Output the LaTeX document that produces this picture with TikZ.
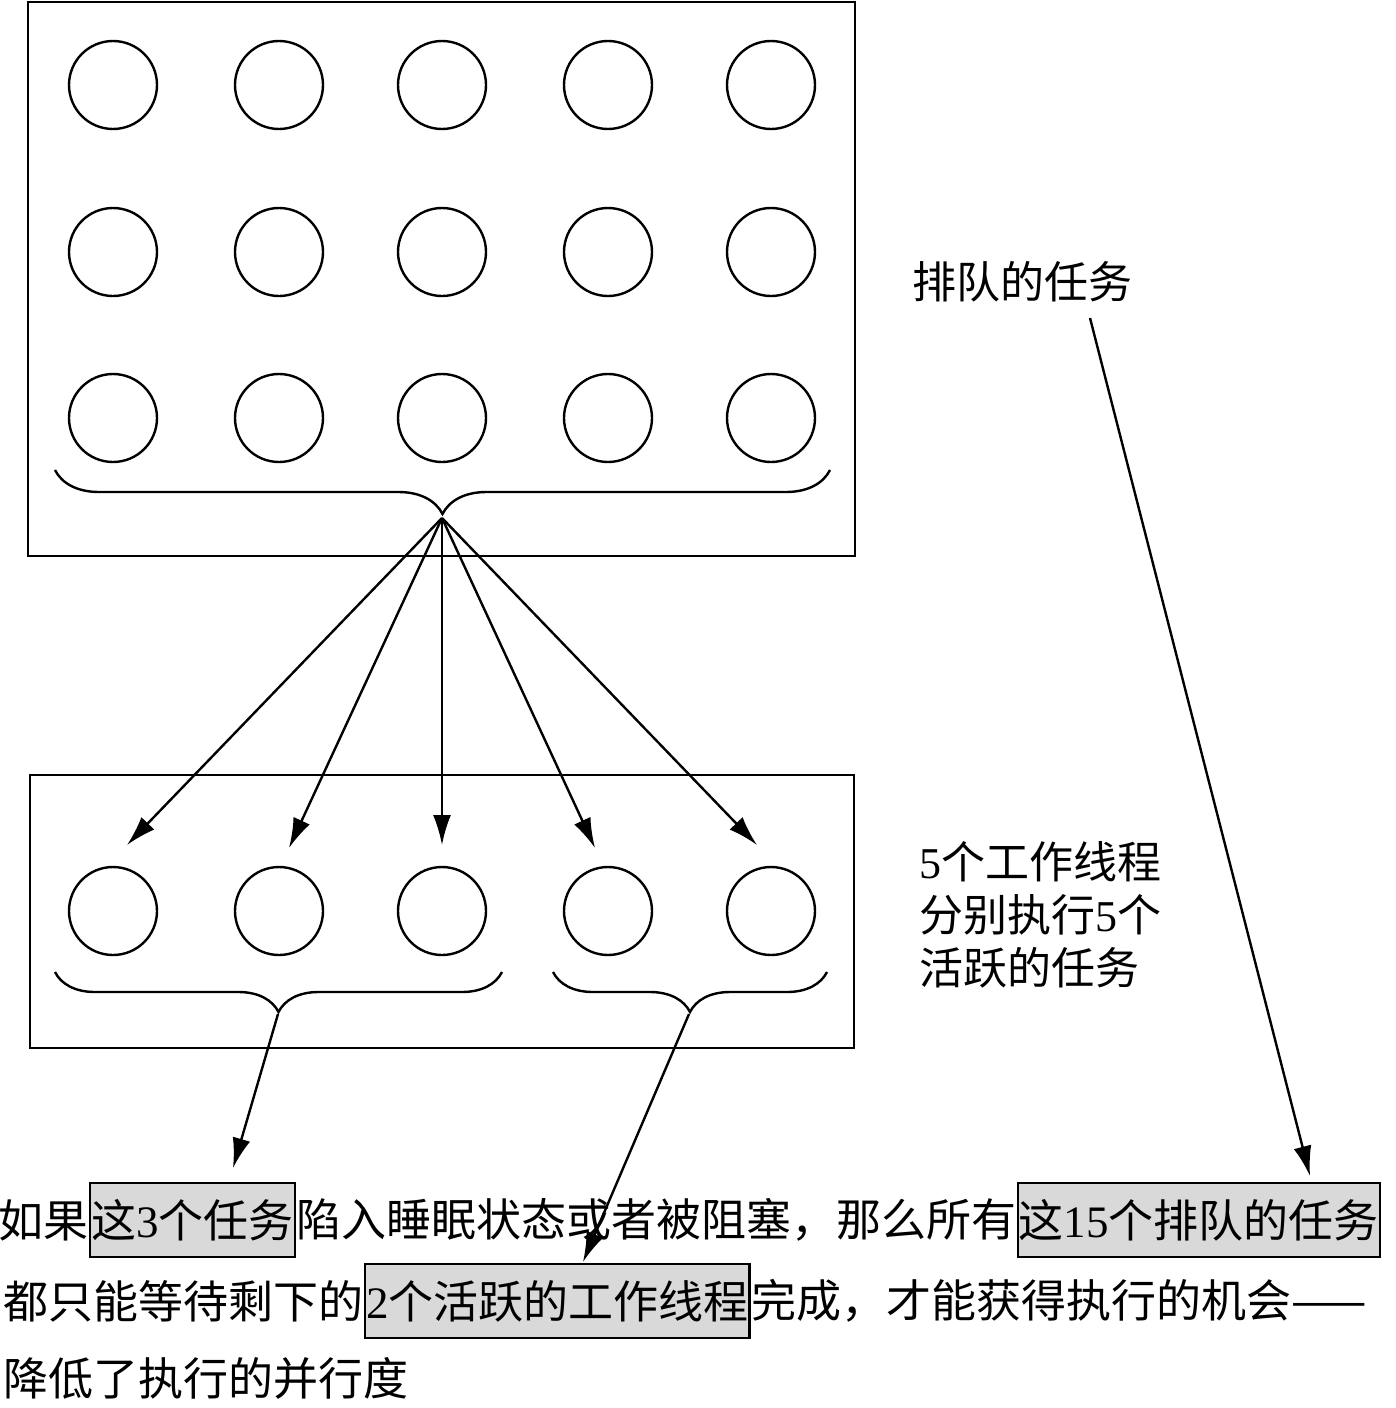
\documentclass[tikz,border=0pt]{standalone}
\usepackage{fontspec}
\setmainfont{Liberation Serif}
\newfontfamily\cjk{Noto Sans CJK SC}
\usetikzlibrary{arrows.meta,decorations.pathreplacing,positioning}
\newcommand\dgt[1]{{\rmfamily #1}}

\begin{document}
\begin{tikzpicture}[x=0.5pt,y=-0.5pt,
        task/.style={circle,draw,line width=1.2pt,minimum size=44pt,inner sep=0pt},
        frame/.style={draw,line width=1.2pt},
        brc/.style={decorate,decoration={brace,mirror,amplitude=#1},line width=1.2pt},
        arr/.style={-{Latex[length=15pt,width=9pt]},line width=1.2pt},
        note/.style={font={\cjk\fontsize{22}{26.5}\selectfont},align=left,inner sep=0pt},
        txt/.style={font={\cjk\fontsize{22.5}{27}\selectfont},inner sep=0pt,minimum height=37pt},
        hilite/.style={txt,draw,fill=gray!30,line width=1.2pt,inner xsep=0.5pt}
    ]
        \useasboundingbox (0,0) rectangle (1396,1408);

        \draw[frame] (28,2) rectangle (855,556);
        \foreach \r/\y in {1/85,2/252,3/418}
            \foreach \c/\x in {1/113,2/279,3/442,4/608,5/771}
                \node[task] (q\r\c) at (\x,\y) {};
        \draw[brc=22pt] (55,470) -- (830,470);
        \coordinate (qtip) at (442,518);

        \draw[frame] (30,775) rectangle (854,1048);
        \foreach \c/\x in {1/113,2/279,3/442,4/608,5/771}
            \node[task] (w\c) at (\x,911) {};
        \draw[brc=20pt] (55,972) -- (502,972);
        \draw[brc=20pt] (553,972) -- (827,972);
        \coordinate (t1) at (278,1014);
        \coordinate (t2) at (689,1014);

        \foreach \i/\x/\y in {1/127/845,2/289/848,3/442/845,4/595/848,5/757/845} {
            \coordinate (a\i) at (\x,\y);
            \draw[arr] (qtip) -- (a\i);
        }

        \node[note] (lq) at (1022,282) {排队的任务};
        \node[note] (lw) at (1040,915) {\dgt{5}个工作线程\\分别执行\dgt{5}个\\活跃的任务};

        \node[hilite,anchor=west] (h1) at (89,1220) {这\dgt{3}个任务};
        \node[txt,left=0pt of h1] (l1a) {如果};
        \node[txt,right=0pt of h1] (l1b) {陷入睡眠状态或者被阻塞，那么所有};
        \node[hilite,right=0pt of l1b] (h2) {这\dgt{15}个排队的任务};
        \node[txt,anchor=west] (l2a) at (3,1301) {都只能等待剩下的};
        \node[hilite,right=0pt of l2a] (h3) {\dgt{2}个活跃的工作线程};
        \node[txt,right=0pt of h3] (l2b) {完成，才能获得执行的机会——};
        \node[txt,anchor=west] (l3) at (3,1378) {降低了执行的并行度};

        \coordinate (e1) at (233,1168);
        \coordinate (e2) at (583,1262);
        \coordinate (s3) at (1090,318);
        \coordinate (e3) at (1310,1176);
        \draw[arr] (t1) -- (e1);
        \draw[arr] (t2) -- (e2);
        \draw[arr] (s3) -- (e3);
    \end{tikzpicture}
\end{document}
